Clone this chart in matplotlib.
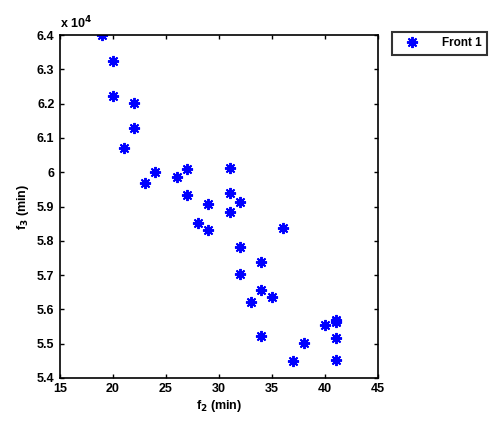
import numpy as np
import matplotlib
matplotlib.use('Agg')
from matplotlib import pyplot as plt

# Front 1 points, f2 (min) vs f3 (min)
f2 = [19, 20, 20, 22, 22, 21, 23, 24, 26, 27, 27, 29, 28, 29, 31, 31, 31, 32,
      32, 32, 36, 34, 34, 33, 35, 34, 37, 38, 40, 41, 41, 41, 41]
f3 = [64000, 63250, 62230, 62020, 61290, 60720, 59700, 60020, 59870, 60090,
      59350, 59070, 58520, 58320, 60130, 59380, 58830, 59120, 57820, 57030,
      58370, 57380, 56560, 56220, 56370, 55220, 54480, 55030, 55540, 55700,
      55630, 55150, 54520]

xticks = [15, 20, 25, 30, 35, 40, 45]
yticks = [5.4, 5.5, 5.6, 5.7, 5.8, 5.9, 6, 6.1, 6.2, 6.3, 6.4]
ytick_labels = ['5.4', '5.5', '5.6', '5.7', '5.8', '5.9', '6', '6.1', '6.2', '6.3', '6.4']

plt.rcParams['font.family'] = ['Liberation Sans', 'DejaVu Sans']
plt.rcParams['font.weight'] = 'bold'

fig = plt.figure(figsize=(4.96, 4.28), dpi=100)
ax = fig.add_axes([0.121, 0.117, 0.641, 0.801])

y = np.array(f3) / 1e4
# matlab-style '*' marker: plus and x together
ax.plot(f2, y, linestyle='none', marker=(8, 2, 0), color='#0000ff', markersize=8,
        markeredgewidth=1.4, label='Front 1')

ax.set_xlim(15, 45)
ax.set_ylim(5.4, 6.4)
ax.set_xticks(xticks)
ax.set_yticks(yticks)
ax.set_yticklabels(ytick_labels)
ax.tick_params(direction='in', length=3, width=1, labelsize=9, top=True, right=True, pad=4)
for lab in ax.get_xticklabels() + ax.get_yticklabels():
    lab.set_fontweight('bold')
for s in ax.spines.values():
    s.set_linewidth(1.2)

ax.text(0.0, 1.012, r'x 10$^{\mathbf{4}}$', transform=ax.transAxes, fontsize=9,
        fontweight='bold', ha='left', va='bottom')

ax.set_xlabel(r'f$_\mathbf{2}$ (min)', fontsize=9, fontweight='bold', labelpad=2)
ax.set_ylabel(r'f$_\mathbf{3}$ (min)', fontsize=9, fontweight='bold', labelpad=4)

leg = fig.legend(loc='upper left', bbox_to_anchor=(0.79, 0.925), fontsize=8.5,
                 frameon=True, fancybox=False, edgecolor='black', borderpad=0.45,
                 handlelength=2.6, handletextpad=1.2, borderaxespad=0)
leg.get_frame().set_linewidth(1.5)
for t in leg.get_texts():
    t.set_fontweight('bold')

plt.savefig('out.png', dpi=100)
